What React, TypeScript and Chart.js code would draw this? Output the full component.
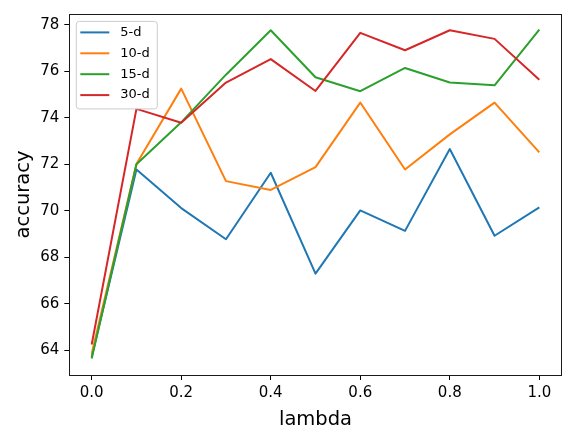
import React, { useEffect, useRef } from "react";
import { Chart, registerables } from "chart.js";

Chart.register(...registerables);

const lambdas = [0, 0.1, 0.2, 0.3, 0.4, 0.5, 0.6, 0.7, 0.8, 0.9, 1.0];
const seriesLabels = ["5-d", "10-d", "15-d", "30-d"];
const acc5d = [63.7, 71.77, 70.11, 68.77, 71.63, 67.29, 70.01, 69.13, 72.65, 68.92, 70.14];
const acc10d = [63.85, 72.01, 75.25, 71.27, 70.89, 71.87, 74.65, 71.77, 73.28, 74.65, 72.51];
const acc15d = [63.64, 72.0, 73.8, 75.85, 77.76, 75.74, 75.14, 76.14, 75.51, 75.39, 77.79];
const acc30d = [64.24, 74.38, 73.78, 75.51, 76.52, 75.15, 77.65, 76.9, 77.76, 77.39, 75.63];
const seriesColors = ["#1f77b4", "#ff7f0e", "#2ca02c", "#d62728"];
const xTicks = [0, 0.2, 0.4, 0.6, 0.8, 1.0];
const yTicks = [64, 66, 68, 70, 72, 74, 76, 78];
const xTitle = "lambda";
const yTitle = "accuracy";

const FONT = "'DejaVu Sans', sans-serif";

const framePlugin = {
  id: "frame",
  afterDatasetsDraw(chart: any) {
    const { ctx, chartArea } = chart;
    ctx.save();
    ctx.strokeStyle = "#1a1a1a";
    ctx.lineWidth = 1;
    ctx.strokeRect(
      Math.round(chartArea.left) + 0.5,
      Math.round(chartArea.top) + 0.5,
      Math.round(chartArea.right - chartArea.left),
      Math.round(chartArea.bottom - chartArea.top)
    );
    ctx.restore();
  },
};

const legendPlugin = {
  id: "innerLegend",
  afterDraw(chart: any) {
    const { ctx, chartArea } = chart;
    const ds = chart.data.datasets;
    const x0 = chartArea.left + 7;
    const y0 = chartArea.top + 7.4;
    const w = 81;
    const h = 87.5;
    ctx.save();
    ctx.beginPath();
    const r = 3;
    ctx.moveTo(x0 + r, y0);
    ctx.lineTo(x0 + w - r, y0);
    ctx.quadraticCurveTo(x0 + w, y0, x0 + w, y0 + r);
    ctx.lineTo(x0 + w, y0 + h - r);
    ctx.quadraticCurveTo(x0 + w, y0 + h, x0 + w - r, y0 + h);
    ctx.lineTo(x0 + r, y0 + h);
    ctx.quadraticCurveTo(x0, y0 + h, x0, y0 + h - r);
    ctx.lineTo(x0, y0 + r);
    ctx.quadraticCurveTo(x0, y0, x0 + r, y0);
    ctx.closePath();
    ctx.fillStyle = "rgba(255,255,255,0.8)";
    ctx.fill();
    ctx.strokeStyle = "#cccccc";
    ctx.lineWidth = 1;
    ctx.stroke();
    ctx.font = `13px ${FONT}`;
    ctx.textBaseline = "middle";
    ctx.textAlign = "left";
    ds.forEach((d: any, i: number) => {
      const cy = y0 + 11 + i * 20.9;
      ctx.strokeStyle = d.borderColor;
      ctx.lineWidth = 2;
      ctx.beginPath();
      ctx.moveTo(x0 + 4, cy);
      ctx.lineTo(x0 + 33, cy);
      ctx.stroke();
      ctx.fillStyle = "#000";
      ctx.fillText(d.label, x0 + 44, cy);
    });
    ctx.restore();
  },
};

export default function App() {
  const ref = useRef<HTMLCanvasElement>(null);
  useEffect(() => {
    if (!ref.current) return;
    const seriesData = [acc5d, acc10d, acc15d, acc30d];
    const chart = new Chart(ref.current, {
      type: "line",
      data: {
        datasets: seriesLabels.map((label, i) => ({
          label,
          data: lambdas.map((x, j) => ({ x, y: seriesData[i][j] })),
          borderColor: seriesColors[i],
          backgroundColor: seriesColors[i],
          borderWidth: 2,
          pointRadius: 0,
          tension: 0,
          fill: false,
          borderJoinStyle: "round" as const,
          order: seriesLabels.length - 1 - i,
        })),
      },
      options: {
        responsive: false,
        animation: false,
        layout: { padding: { left: 0, right: 4.3, top: 7.3, bottom: 0 } },
        plugins: {
          legend: { display: false },
          tooltip: { enabled: false },
        },
        scales: {
          x: {
            type: "linear",
            min: -0.05,
            max: 1.05,
            afterBuildTicks: (s: any) => {
              s.ticks = xTicks.map((v) => ({ value: v }));
            },
            afterFit: (s: any) => {
              s.height = 55;
            },
            ticks: {
              callback: (v: any) => Number(v).toFixed(1),
              font: { family: FONT, size: 15 },
              color: "#000",
              padding: 4,
              maxRotation: 0,
              autoSkip: false,
            },
            grid: {
              display: true,
              drawOnChartArea: false,
              drawTicks: true,
              tickLength: 5,
              tickColor: "#000",
              tickWidth: 1,
            },
            border: { display: false },
            title: {
              display: true,
              text: xTitle,
              font: { family: FONT, size: 19.5 },
              color: "#000",
              padding: { top: 0, bottom: -2 },
            },
          },
          y: {
            type: "linear",
            min: 62.93,
            max: 78.46,
            afterBuildTicks: (s: any) => {
              s.ticks = yTicks.map((v) => ({ value: v }));
            },
            afterFit: (s: any) => {
              s.width = 69.3;
            },
            ticks: {
              callback: (v: any) => String(v),
              font: { family: FONT, size: 15 },
              color: "#000",
              padding: 5,
              autoSkip: false,
            },
            grid: {
              display: true,
              drawOnChartArea: false,
              drawTicks: true,
              tickLength: 5,
              tickColor: "#000",
              tickWidth: 1,
            },
            border: { display: false },
            title: {
              display: true,
              text: yTitle,
              font: { family: FONT, size: 19.5 },
              color: "#000",
              padding: { top: 12, bottom: 0 },
            },
          },
        },
      },
      plugins: [framePlugin, legendPlugin],
    });
    return () => chart.destroy();
  }, []);
  return (
    <div style={{ position: "absolute", left: 0, top: 0, width: 566, height: 430, background: "#fff" }}>
      <canvas ref={ref} width={566} height={430} style={{ width: 566, height: 430 }} />
    </div>
  );
}
